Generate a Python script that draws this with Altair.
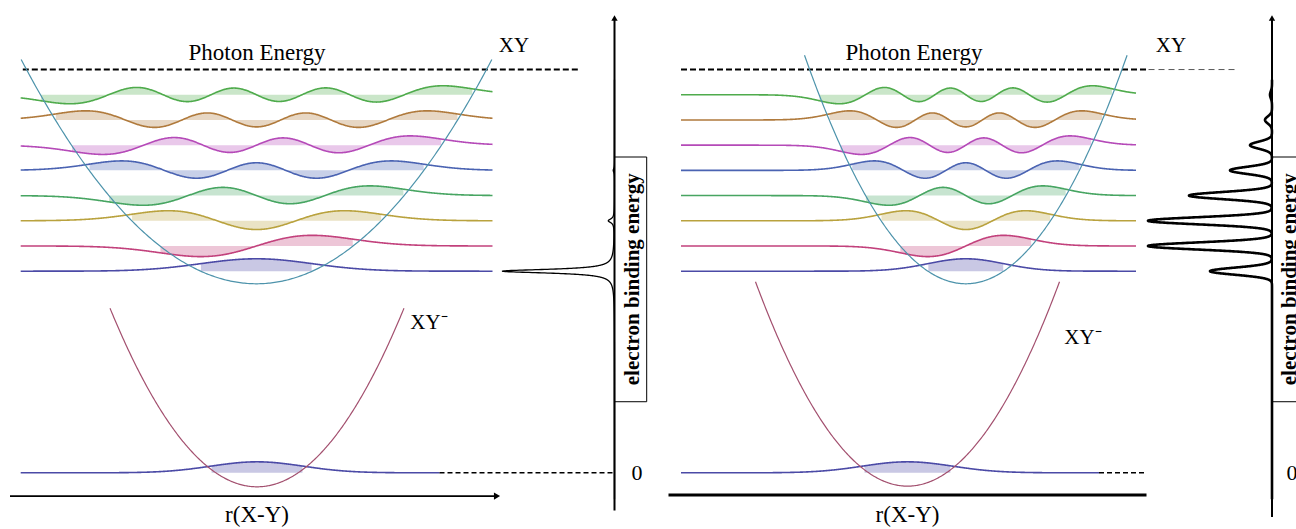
import numpy as np
import pandas as pd
import altair as alt

# ---- drawing frame --------------------------------------------------------
PANEL_W, PANEL_H = 648, 529
R_DOMAIN = [0.0, 6.48]        # internuclear distance r(X-Y), arbitrary units
E_DOMAIN = [-2.23, 18.76]     # energy in vibrational quanta above XY- (v=0)
SERIF = "Liberation Serif"

# ---- vibrational ladder of neutral XY -------------------------------------
vib_quanta = [0, 1, 2, 3, 4, 5, 6, 7]
vib_energy = [8.0, 9.0, 10.0, 11.0, 12.0, 13.0, 14.0, 15.0]
vib_color = ["#4b4aa6", "#c2417c", "#b9a23e", "#47a562",
             "#4a63b2", "#b54ab8", "#b07a3c", "#4fab4c"]
photon_energy = 16.0
WAVE_AMP = 0.655              # height of a unit wavefunction, energy units
ANION_AMP = 0.58

# ---- per-panel geometry: left = similar geometry, right = displaced -------
neutral_center = [2.565, 3.178]
neutral_min = [7.5, 7.5]
neutral_curv = [1.607, 3.486]
neutral_top = [16.4, 16.57]
wave_span = [[0.207, 4.925], [0.33, 4.88]]

anion_center = [2.57, 2.595]
anion_min = [-0.556, -0.53]
anion_curv = [3.28, 3.51]
anion_top = [6.53, 7.58]
anion_width = [0.46, 0.45]
anion_solid_end = [4.395, 4.51]
anion_dash_end = [6.145, 4.96]

photon_span = [[0.228, 5.80], [0.33, 5.005]]
photon_thin_span = [[], [5.005, 5.89]]

r_axis_span = [[0.10, 4.97], [0.205, 4.985]]
r_axis_E = [-0.925, -0.885]
r_axis_width = [1.8, 3.0]

# ---- photoelectron spectra drawn against the binding-energy axis ----------
spec_axis = [6.145, 6.24]
spec_depth = [[1.12, 0.0, 0.06, 0.0, 0.012, 0.0, 0.0, 0.0],
              [0.62, 1.24, 1.24, 0.83, 0.42, 0.22, 0.07, 0.02]]
spec_shape = ["lorentz", "gauss"]
spec_linewidth = [0.09, 0.14]
spec_stroke = [1.3, 2.6]
spec_E_range = [-1.05, 15.6]
axis_E_range = [[-1.5, 18.0], [-1.75, 18.0]]
axis_stroke = [2.0, 2.0]
box_r = [[6.145, 6.467], [6.24, 6.75]]
box_E = [2.82, 12.53]

# ---- labels ---------------------------------------------------------------
label_photon = [[2.57, 16.65], [2.66, 16.65]]
label_xy = [[5.14, 16.95], [5.23, 16.95]]
label_xym = [[4.29, 5.95], [4.35, 5.35]]
label_r = [[2.57, -1.68], [2.595, -1.68]]
label_zero = [[6.37, 0.0], [6.44, 0.0]]
label_be = [[6.325, 7.68], [6.42, 7.68]]


def hermite_functions(xi, nmax):
    psi = [np.pi ** -0.25 * np.exp(-xi ** 2 / 2)]
    psi.append(np.sqrt(2.0) * xi * psi[0])
    for n in range(1, nmax):
        psi.append(np.sqrt(2.0 / (n + 1)) * xi * psi[n] - np.sqrt(n / (n + 1)) * psi[n - 1])
    return psi


def xs():
    return alt.X("r:Q", scale=alt.Scale(domain=R_DOMAIN, nice=False, zero=False), axis=None)


def ys(field="E"):
    return alt.Y(f"{field}:Q", scale=alt.Scale(domain=E_DOMAIN, nice=False, zero=False), axis=None)


def build_panel(k):
    # vibrational wavefunctions of the neutral, plus v=0 of the anion
    rows = []
    r = np.linspace(wave_span[k][0], wave_span[k][1], 700)
    sigma = 1.0 / np.sqrt(2.0 * neutral_curv[k])
    psi = hermite_functions((r - neutral_center[k]) / sigma, max(vib_quanta))
    for v, e, col in zip(vib_quanta, vib_energy, vib_color):
        turn = np.sqrt((e - neutral_min[k]) / neutral_curv[k])
        for ri, p in zip(r, psi[v]):
            rows.append(dict(r=ri, E=e + WAVE_AMP * p, base=e, lvl=f"n{v}", col=col,
                             allowed=abs(ri - neutral_center[k]) <= turn))
    ra = np.linspace(wave_span[k][0], anion_solid_end[k], 600)
    pa = np.pi ** -0.25 * np.exp(-((ra - anion_center[k]) / anion_width[k]) ** 2 / 2)
    turn_a = np.sqrt((0.0 - anion_min[k]) / anion_curv[k]) * 1.12
    for ri, p in zip(ra, pa):
        rows.append(dict(r=ri, E=ANION_AMP * p, base=0.0, lvl="a0", col=vib_color[0],
                         allowed=abs(ri - anion_center[k]) <= turn_a))
    waves = pd.DataFrame(rows)

    # potential energy curves
    prow = []
    for name, c0, vmin, cv, top, col in [
        ("XY", neutral_center[k], neutral_min[k], neutral_curv[k], neutral_top[k], "#4d93ab"),
        ("XY-", anion_center[k], anion_min[k], anion_curv[k], anion_top[k], "#a3506f"),
    ]:
        half = np.sqrt((top - vmin) / cv)
        for ri in np.linspace(c0 - half, c0 + half, 300):
            prow.append(dict(r=ri, E=vmin + cv * (ri - c0) ** 2, pot=name, col=col))
    pots = pd.DataFrame(prow)

    # spectrum
    Eg = np.arange(spec_E_range[0], spec_E_range[1], 0.004)
    depth = np.zeros_like(Eg)
    w = spec_linewidth[k]
    for e, d in zip(vib_energy, spec_depth[k]):
        if spec_shape[k] == "lorentz":
            depth += d * w ** 2 / ((Eg - e) ** 2 + w ** 2)
        else:
            depth += d * np.exp(-0.5 * ((Eg - e) / w) ** 2)
    spec = pd.DataFrame(dict(r=spec_axis[k] - depth, E=Eg, i=np.arange(len(Eg))))

    enc_line = dict(x=xs(), y=ys(), color=alt.Color("col:N", scale=None))

    fills = alt.Chart(waves).transform_filter("datum.allowed").mark_area(
        opacity=0.3, clip=True).encode(
        x=xs(), y=ys(), y2="base:Q", color=alt.Color("col:N", scale=None), detail="lvl:N")
    wave_lines = alt.Chart(waves).mark_line(strokeWidth=1.6, clip=True).encode(
        detail="lvl:N", **enc_line)
    pot_lines = alt.Chart(pots).mark_line(strokeWidth=1.2, clip=True).encode(
        detail="pot:N", **enc_line)

    seg = pd.DataFrame(dict(r=[anion_solid_end[k]], r2=[anion_dash_end[k]], E=[0.0]))
    anion_dash = alt.Chart(seg).mark_rule(color="black", strokeWidth=1.4,
                                          strokeDash=[5, 3], clip=True).encode(
        x=xs(), x2="r2:Q", y=ys())
    ph = pd.DataFrame(dict(r=[photon_span[k][0]], r2=[photon_span[k][1]], E=[photon_energy]))
    photon = alt.Chart(ph).mark_rule(color="black", strokeWidth=2,
                                     strokeDash=[6, 3], clip=True).encode(
        x=xs(), x2="r2:Q", y=ys())
    layers = [fills, wave_lines, anion_dash, photon]
    if photon_thin_span[k]:
        pt = pd.DataFrame(dict(r=[photon_thin_span[k][0]], r2=[photon_thin_span[k][1]],
                               E=[photon_energy]))
        layers.append(alt.Chart(pt).mark_rule(color="#444", strokeWidth=0.9,
                                              strokeDash=[6, 4], clip=True).encode(
            x=xs(), x2="r2:Q", y=ys()))
    layers.append(pot_lines)

    spec_line = alt.Chart(spec).mark_line(color="black", strokeWidth=spec_stroke[k],
                                          clip=True).encode(
        x=xs(), y=ys(), order="i:Q")
    ax = pd.DataFrame(dict(r=[spec_axis[k]], E=[axis_E_range[k][0]], E2=[axis_E_range[k][1]]))
    axis_v = alt.Chart(ax).mark_rule(color="black", strokeWidth=axis_stroke[k], clip=True).encode(
        x=xs(), y=ys(), y2="E2:Q")
    rx = pd.DataFrame(dict(r=[r_axis_span[k][0]], r2=[r_axis_span[k][1]], E=[r_axis_E[k]]))
    axis_r = alt.Chart(rx).mark_rule(color="black", strokeWidth=r_axis_width[k],
                                     clip=True).encode(x=xs(), x2="r2:Q", y=ys())
    head_up = alt.Chart(pd.DataFrame(dict(r=[spec_axis[k]], E=[axis_E_range[k][1] + 0.05]))).mark_point(
        shape="triangle-up", filled=True, size=40, color="black", opacity=1, clip=True).encode(
        x=xs(), y=ys())
    layers += [spec_line, axis_v, axis_r, head_up]
    if k == 0:
        head_r = alt.Chart(pd.DataFrame(dict(r=[r_axis_span[k][1]], E=[r_axis_E[k]]))).mark_point(
            shape="triangle-right", filled=True, size=50, color="black", opacity=1,
            clip=True).encode(x=xs(), y=ys())
        layers.append(head_r)

    bx = pd.DataFrame(dict(r=[box_r[k][0]], r2=[box_r[k][1]], E=[box_E[0]], E2=[box_E[1]]))
    box = alt.Chart(bx).mark_rect(fillOpacity=0, stroke="black", strokeWidth=1,
                                  clip=True).encode(x=xs(), x2="r2:Q", y=ys(), y2="E2:Q")
    layers.append(box)

    def label(pos, text, size, **kw):
        d = pd.DataFrame(dict(r=[pos[0]], E=[pos[1]], t=[text]))
        return alt.Chart(d).mark_text(font=SERIF, fontSize=size, color="black",
                                      align="center", baseline="middle", clip=True,
                                      **kw).encode(x=xs(), y=ys(), text="t:N")

    layers += [
        label(label_photon[k], "Photon Energy", 23),
        label(label_xy[k], "XY", 21),
        label(label_xym[k], "XY\u207b", 21),
        label(label_r[k], "r(X-Y)", 23),
        label(label_zero[k], "0", 22),
        label(label_be[k], "electron binding energy", 21, angle=270, fontWeight="bold"),
    ]
    return alt.layer(*layers).properties(width=PANEL_W, height=PANEL_H)


chart = alt.hconcat(build_panel(0), build_panel(1), spacing=0).properties(
    padding=0, background="white"
).configure_view(stroke=None)

chart.save("out.html", embed_options={"renderer": "svg", "actions": False})
